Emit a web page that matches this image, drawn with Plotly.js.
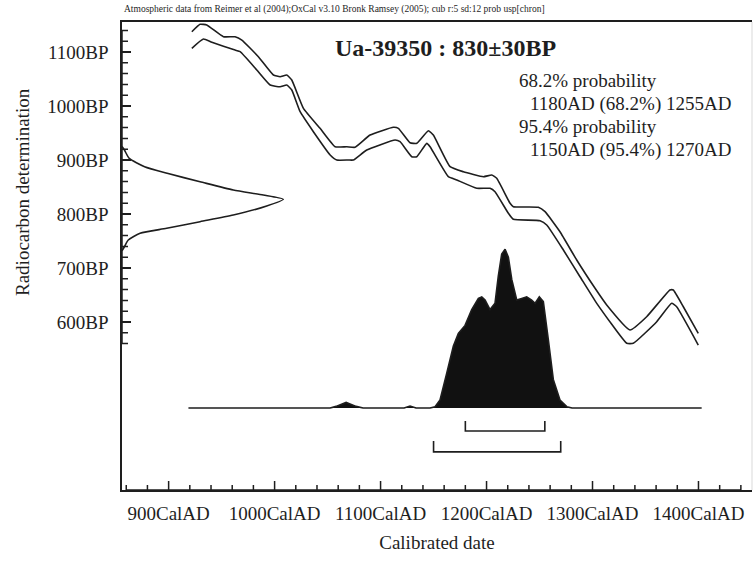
<!DOCTYPE html>
<html>
<head>
<meta charset="utf-8">
<script src="https://cdn.plot.ly/plotly-3.0.1.min.js"></script>
<style>html,body{margin:0;padding:0;background:#fff;}#chart{width:755px;height:562px;}</style>
</head>
<body>
<div id="chart"></div>
<script>
// ---- Calibration curve (IntCal04 band, upper and lower 1-sigma lines) ----
const calUpperYear = [921.9, 929.7, 936, 951.7, 962.7, 969.1, 984.7, 998.9, 1005.2, 1011.5, 1016.2, 1027.2, 1042.9, 1057.1, 1068.1, 1075.9, 1090.1, 1112.1, 1116.8, 1127.8, 1134.2, 1145.1, 1149.8, 1165.6, 1178.1, 1197, 1204.9, 1209.6, 1222.2, 1225.3, 1248.9, 1255.2, 1269.3, 1285.1, 1302.4, 1313.4, 1335.4, 1351.1, 1373.1, 1376.2, 1385.7, 1399.8];
const calUpperBP   = [1137.6, 1151.3, 1150, 1128.3, 1128.3, 1122.2, 1091.3, 1057.4, 1054.3, 1057.4, 1048.1, 995.7, 958.7, 924.6, 924.6, 923.5, 946.3, 960.6, 958.7, 932, 930.9, 954.3, 946.3, 887.6, 878.3, 869.1, 872.2, 866.1, 819.8, 813.5, 812.4, 804.3, 767.2, 714.8, 662.4, 631.5, 585.2, 609.8, 659.3, 659.3, 628.3, 579.1];
const calLowerYear = [921.9, 932.8, 940.8, 962.7, 967.5, 983.2, 995.8, 1005.2, 1011.5, 1016.2, 1024.1, 1036.6, 1052.4, 1058.7, 1069.6, 1074.3, 1087, 1113.7, 1118.4, 1129.4, 1134.2, 1143.6, 1146.7, 1164, 1171.9, 1190.8, 1203.3, 1208, 1220.6, 1225.3, 1250.5, 1256.8, 1272.5, 1288.2, 1304, 1332.3, 1338.5, 1360.6, 1374.7, 1379.4, 1399.8];
const calLowerBP   = [1106.9, 1124.1, 1118, 1103.7, 1100.6, 1066.7, 1038.9, 1035.7, 1038.9, 1029.6, 989.4, 952.4, 909.3, 900, 900, 900, 918.5, 937, 933.9, 906.1, 906.1, 930.9, 924.6, 869.1, 863, 847.6, 847.6, 841.3, 801.3, 790.2, 787.6, 779.6, 733.3, 683.9, 634.6, 560.6, 560.6, 600.6, 634.6, 628.3, 557.4];

// ---- Radiocarbon measurement 830±30 BP (relative probability) ----
const measBP   = [925, 918.5, 903, 887.6, 875.4, 859.8, 844.4, 835.2, 827.2, 814.8, 798.1, 785.8, 773.5, 764.3, 751.9, 739.4, 732];
const measProb = [0.0, 0.015, 0.045, 0.14, 0.28, 0.484, 0.69, 0.876, 1.0, 0.897, 0.69, 0.484, 0.277, 0.112, 0.039, 0.015, 0.0];

// ---- Calibrated date distribution (relative probability) ----
const postYear = [918.7, 1052.4, 1058, 1067.5, 1076.9, 1083.5, 1122.2, 1127.8, 1133.5, 1146.7, 1151.4, 1156.1, 1162.5, 1168.7, 1173.4, 1179.7, 1186, 1192.3, 1195.5, 1198.6, 1203.3, 1208, 1211.1, 1214.3, 1217.5, 1220.6, 1223.8, 1228.5, 1233.2, 1237.9, 1242.6, 1245.8, 1249.8, 1253.6, 1258.3, 1263, 1269.3, 1275.7, 1280.7, 1403];
const postProb = [0, 0, 0.01, 0.035, 0.01, 0, 0, 0.012, 0, 0, 0.008, 0.05, 0.22, 0.39, 0.47, 0.52, 0.62, 0.69, 0.70, 0.68, 0.62, 0.66, 0.83, 0.97, 1.0, 0.95, 0.81, 0.68, 0.69, 0.70, 0.68, 0.66, 0.70, 0.67, 0.43, 0.18, 0.05, 0.008, 0, 0];

// ---- Ranges ----
const range68 = [1180, 1255];
const range95 = [1150, 1270];

// ---- Ticks ----
const xTickVals = [900, 1000, 1100, 1200, 1300, 1400];
const xTickText = ['900CalAD', '1000CalAD', '1100CalAD', '1200CalAD', '1300CalAD', '1400CalAD'];
const xMinorVals = [];
for (let v = 860; v <= 1440; v += 20) xMinorVals.push(v);
const yTickVals = [600, 700, 800, 900, 1000, 1100];
const yTickText = ['600BP', '700BP', '800BP', '900BP', '1000BP', '1100BP'];
const yMinorVals = [];
for (let v = 560; v <= 1140; v += 20) yMinorVals.push(v);

const INK = '#1e1e1e';
const FONT = 'Liberation Serif, Times New Roman, serif';
const XR = [856, 1450.5];
const YR = [288.9, 1155.6];
const PLOT_W = 630, PLOT_H = 468;

// inside tick marks as a continuous comb along each axis (pixel-unit helper axes give the length)
const xtX = [], xtY = [];
xMinorVals.forEach(v => { const len = xTickVals.indexOf(v) >= 0 ? 9 : 5; xtX.push(v, v, v); xtY.push(0, len, 0); });
const ytX = [], ytY = [];
yMinorVals.forEach(v => { const len = yTickVals.indexOf(v) >= 0 ? 9 : 6; ytX.push(0, len, 0); ytY.push(v, v, v); });

const traces = [
  {x: calUpperYear, y: calUpperBP, mode: 'lines', line: {color: INK, width: 1.6, shape: 'spline', smoothing: 0.4}, hoverinfo: 'skip'},
  {x: calLowerYear, y: calLowerBP, mode: 'lines', line: {color: INK, width: 1.6, shape: 'spline', smoothing: 0.4}, hoverinfo: 'skip'},
  {x: measProb, y: measBP, xaxis: 'x3', yaxis: 'y', mode: 'lines', line: {color: INK, width: 1.6, shape: 'spline', smoothing: 0.6}, hoverinfo: 'skip'},
  {x: postYear, y: postProb, xaxis: 'x', yaxis: 'y2', mode: 'lines', fill: 'tozeroy', fillcolor: '#111', line: {color: INK, width: 1.6}, hoverinfo: 'skip'},
  {x: [range68[0], range68[0], range68[1], range68[1]], y: [-0.082, -0.145, -0.145, -0.082], xaxis: 'x', yaxis: 'y2', mode: 'lines', line: {color: INK, width: 1.6}, hoverinfo: 'skip'},
  {x: [range95[0], range95[0], range95[1], range95[1]], y: [-0.208, -0.277, -0.277, -0.208], xaxis: 'x', yaxis: 'y2', mode: 'lines', line: {color: INK, width: 1.6}, hoverinfo: 'skip'},
  {x: xtX, y: xtY, xaxis: 'x', yaxis: 'y5', mode: 'lines', line: {color: INK, width: 1.5}, hoverinfo: 'skip'},
  {x: ytX, y: ytY, xaxis: 'x6', yaxis: 'y', mode: 'lines', line: {color: INK, width: 1.5}, hoverinfo: 'skip'}
];

const layout = {
  width: 755, height: 562,
  margin: {l: 122, r: 3, t: 22, b: 72},
  paper_bgcolor: '#ffffff', plot_bgcolor: '#ffffff',
  showlegend: false,
  font: {family: FONT, color: INK, size: 19},
  xaxis: {
    range: XR, showgrid: false, zeroline: false,
    showline: true, linecolor: INK, linewidth: 1.6, mirror: true,
    ticks: 'inside', ticklen: 9, tickwidth: 1.5, tickcolor: INK,
    tickmode: 'array', tickvals: xTickVals, ticktext: xTickText,
    tickfont: {family: FONT, size: 19, color: INK},
    ticklabelstandoff: 6,
    title: {text: 'Calibrated date', font: {family: FONT, size: 19, color: INK}, standoff: 12}
  },
  yaxis: {
    range: YR, showgrid: false, zeroline: false,
    showline: true, linecolor: INK, linewidth: 1.6,
    ticks: 'inside', ticklen: 9, tickwidth: 1.5, tickcolor: INK,
    tickmode: 'array', tickvals: yTickVals, ticktext: yTickText,
    tickfont: {family: FONT, size: 19, color: INK},
    ticklabelstandoff: 8
  },
  yaxis2: {overlaying: 'y', range: [-0.517, 2.432], visible: false, fixedrange: true},
  xaxis3: {overlaying: 'x', range: [0, 3.906], visible: false, fixedrange: true},
  yaxis5: {overlaying: 'y', range: [0, PLOT_H], visible: false, fixedrange: true},
  xaxis6: {overlaying: 'x', range: [0, PLOT_W], visible: false, fixedrange: true},
  shapes: [
    {type: 'line', xref: 'paper', yref: 'paper', x0: 1, x1: 1, y0: 0, y1: 1, line: {color: '#d9d9d9', width: 1}}
  ],
  annotations: [
    {xref: 'paper', yref: 'paper', x: 0, y: 1, yshift: 13, xanchor: 'left', yanchor: 'middle', showarrow: false,
     text: 'Atmospheric data from Reimer et al (2004);OxCal v3.10 Bronk Ramsey (2005); cub r:5 sd:12 prob usp[chron]',
     font: {family: FONT, size: 9.5, color: INK}},
    {xref: 'paper', yref: 'paper', x: -100 / 630, y: 1 - (192 - 22) / 468, xanchor: 'center', yanchor: 'middle', showarrow: false,
     textangle: -90, text: 'Radiocarbon determination', font: {family: FONT, size: 19, color: INK}},
    {xref: 'paper', yref: 'paper', x: (333 - 122) / 630, y: 1 - (48 - 22) / 468, xanchor: 'left', yanchor: 'middle', showarrow: false,
     text: '<b>Ua-39350 : 830±30BP</b>', font: {family: FONT, size: 24, color: INK}},
    {xref: 'paper', yref: 'paper', x: (517 - 122) / 630, y: 1 - (80 - 22) / 468, xanchor: 'left', yanchor: 'middle', showarrow: false,
     text: '68.2% probability', font: {family: FONT, size: 19, color: INK}},
    {xref: 'paper', yref: 'paper', x: (528 - 122) / 630, y: 1 - (104 - 22) / 468, xanchor: 'left', yanchor: 'middle', showarrow: false,
     text: '1180AD (68.2%) 1255AD', font: {family: FONT, size: 19, color: INK}},
    {xref: 'paper', yref: 'paper', x: (517 - 122) / 630, y: 1 - (127 - 22) / 468, xanchor: 'left', yanchor: 'middle', showarrow: false,
     text: '95.4% probability', font: {family: FONT, size: 19, color: INK}},
    {xref: 'paper', yref: 'paper', x: (528 - 122) / 630, y: 1 - (150 - 22) / 468, xanchor: 'left', yanchor: 'middle', showarrow: false,
     text: '1150AD (95.4%) 1270AD', font: {family: FONT, size: 19, color: INK}}
  ]
};

Plotly.newPlot('chart', traces, layout, {staticPlot: true, displayModeBar: false});
</script>
</body>
</html>
